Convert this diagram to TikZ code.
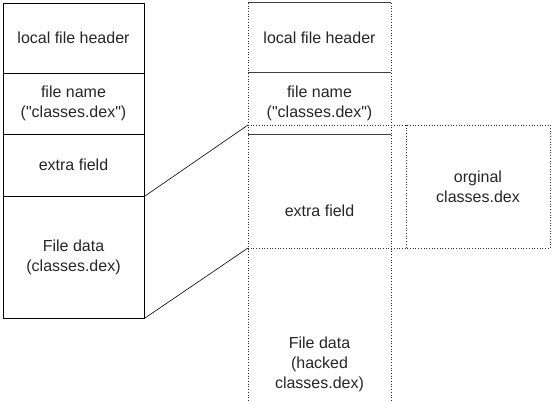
\documentclass[tikz,border=0pt]{standalone}
\usepackage{fontspec}
\setmainfont{Liberation Sans}
\begin{document}
\begin{tikzpicture}[x=1pt,y=-1pt,
  txt/.style={align=center,font=\fontsize{16}{20}\selectfont,text=black!85,inner sep=0pt},
  field/.style={draw=black,line width=0.8pt,minimum width=141pt,inner sep=0pt,txt},
  sep/.style={draw=black!75,line width=1pt},
  dots/.style={draw=black!80,line width=0.7pt,dotted},
  conn/.style={draw=black,line width=0.6pt}]
\useasboundingbox (0,0) rectangle (553,401);
% left column
\node[field,minimum height=70pt] (lh) at (73.5,38) {local file header};
\node[field,minimum height=61pt] (lfn) at (73.5,103.5) {file name\\(\textquotedbl classes.dex\textquotedbl)};
\node[field,minimum height=62pt] (lef) at (73.5,165) {extra field};
\node[field,minimum height=122pt] (lfd) at (73.5,257) {File data\\(classes.dex)};
% middle column
\coordinate (mtl) at (248,3);
\coordinate (mtr) at (391,3);
\coordinate (mbl) at (248,401);
\coordinate (mbr) at (391,401);
\coordinate (ms1l) at (248,73);
\coordinate (ms1r) at (391,73);
\coordinate (ms2l) at (248,134);
\coordinate (ms2r) at (391,134);
\coordinate (d1l) at (248,125);
\coordinate (d1r) at (550,125);
\coordinate (d2l) at (248,248);
\coordinate (d2r) at (550,248);
\coordinate (rbl) at (406,125);
\coordinate (rblb) at (406,248);
\node[txt] (mh) at (319.5,38) {local file header};
\node[txt] (mfn) at (319.5,103.5) {file name\\(\textquotedbl classes.dex\textquotedbl)};
\node[txt] (mef) at (319.5,211) {extra field};
\node[txt] (mfd) at (319.5,364) {File data\\(hacked\\classes.dex)};
\node[txt] (orig) at (478,186.5) {orginal\\classes.dex};
\draw[sep] (mtl) -- (mtr);
\draw[sep] (ms1l) -- (ms1r);
\draw[sep] (ms2l) -- (ms2r);
\draw[dots] (mtl) -- (mbl);
\draw[dots] (mtr) -- (mbr);
\draw[dots] (d1l) -- (d1r) -- (d2r) -- (d2l);
\draw[dots] (rbl) -- (rblb);
% connectors
\draw[conn] (lef.south east) -- (d1l);
\draw[conn] (lfd.south east) -- (d2l);
\end{tikzpicture}
\end{document}
